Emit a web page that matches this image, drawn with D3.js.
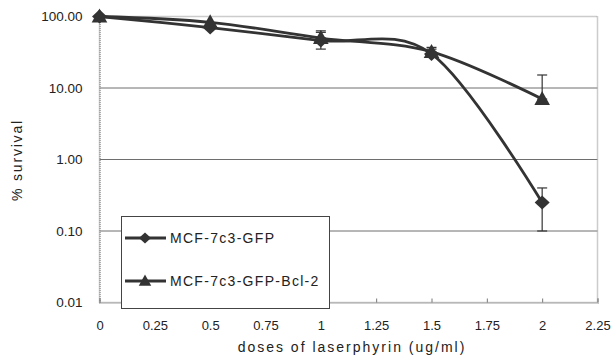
<!DOCTYPE html>
<html><head><meta charset="utf-8">
<script src="https://cdn.jsdelivr.net/npm/d3@7"></script>
<style>html,body{margin:0;padding:0;background:#fff;}svg{display:block;}</style>
</head><body>
<svg id="c" width="613" height="358"></svg>
<script>
const doses = [0, 0.5, 1, 1.5, 2];
const gfp = [100, 70, 46, 30, 0.25];
const gfpErrLow = [100, 70, 35, 30, 0.1];
const gfpErrHigh = [100, 70, 60, 35, 0.4];
const bcl2 = [100, 83, 50, 32, 7];
const bcl2ErrLow = [100, 83, 50, 32, 7];
const bcl2ErrHigh = [100, 83, 63, 37, 15.2];
const yTicks = [0.01, 0.1, 1, 10, 100];
const xTicks = [0, 0.25, 0.5, 0.75, 1, 1.25, 1.5, 1.75, 2, 2.25];
const seriesNames = ["MCF-7c3-GFP", "MCF-7c3-GFP-Bcl-2"];

const svg = d3.select("#c");
const L = 99.5, R = 597.5, T = 16.5, B = 302.5;
const x = d3.scaleLinear().domain([0, 2.25]).range([L, R]);
const y = d3.scaleLog().domain([0.01, 100]).range([B, T]);
const ink = "#333";
const font = "Liberation Sans, Arial, sans-serif";

// gridlines
svg.append("g").selectAll("line").data(yTicks.filter(v => v > 0.01 && v < 100)).join("line")
  .attr("x1", L).attr("x2", R).attr("y1", d => y(d)).attr("y2", d => y(d))
  .attr("stroke", "#6e6e6e").attr("stroke-width", 1);

// plot frame (dotted gray)
svg.append("rect").attr("x", L).attr("y", T).attr("width", R - L).attr("height", B - T)
  .attr("fill", "none").attr("stroke", "#999").attr("stroke-width", 1.5).attr("stroke-dasharray", "1,1");

// y axis
const yAxis = d3.axisLeft(y).tickValues(yTicks).tickFormat(d3.format(".2f")).tickSize(0).tickPadding(17);
const gy = svg.append("g").attr("transform", `translate(${L},0)`).call(yAxis);
gy.select(".domain").attr("stroke", "#999").attr("stroke-dasharray", "1,1").attr("stroke-width", 1.5);
gy.selectAll("text").attr("font-family", font).attr("font-size", 13.5).attr("fill", "#222");

// x axis
const xAxis = d3.axisBottom(x).tickValues(xTicks).tickFormat(d => d3.format("")(d)).tickSize(-4).tickPadding(18);
const gx = svg.append("g").attr("transform", `translate(0,${B})`).call(xAxis);
gx.select(".domain").attr("stroke", "#999").attr("stroke-dasharray", "1,1").attr("stroke-width", 1.5);
gx.selectAll(".tick line").attr("stroke", "#777");
gx.selectAll("text").attr("font-family", font).attr("font-size", 13).attr("fill", "#222");

// axis titles
svg.append("text").attr("x", 352).attr("y", 352).attr("text-anchor", "middle")
  .attr("font-family", font).attr("font-size", 14).attr("letter-spacing", 2)
  .attr("fill", "#222").text("doses of laserphyrin (ug/ml)");
svg.append("text").attr("transform", "translate(22,160) rotate(-90)").attr("text-anchor", "middle")
  .attr("font-family", font).attr("font-size", 14).attr("letter-spacing", 1.8)
  .attr("fill", "#222").text("% survival");

const line = d3.line().x(d => x(d[0])).y(d => y(d[1])).curve(d3.curveCatmullRom.alpha(0));
const s1 = doses.map((d, i) => [d, gfp[i]]);
const s2 = doses.map((d, i) => [d, bcl2[i]]);

function errbars(lo, hi) {
  const g = svg.append("g").attr("stroke", ink).attr("stroke-width", 1.2);
  doses.forEach((d, i) => {
    const cx = x(d);
    if (Math.abs(y(hi[i]) - y(lo[i])) < 1) return;
    g.append("line").attr("x1", cx).attr("x2", cx).attr("y1", y(lo[i])).attr("y2", y(hi[i]));
    [lo[i], hi[i]].forEach(v => {
      g.append("line").attr("x1", cx - 5).attr("x2", cx + 5).attr("y1", y(v)).attr("y2", y(v));
    });
  });
}
errbars(gfpErrLow, gfpErrHigh);
errbars(bcl2ErrLow, bcl2ErrHigh);

svg.append("path").attr("d", line(s2)).attr("fill", "none").attr("stroke", ink).attr("stroke-width", 2.8);
svg.append("path").attr("d", line(s1)).attr("fill", "none").attr("stroke", ink).attr("stroke-width", 2.8);

const diamond = "M0,-7L7.5,0L0,7L-7.5,0Z";
const triangle = "M0,-8L7.8,6L-7.8,6Z";
svg.append("g").selectAll("path").data(s1).join("path")
  .attr("transform", d => `translate(${x(d[0])},${y(d[1])})`).attr("d", diamond).attr("fill", ink);
svg.append("g").selectAll("path").data(s2).join("path")
  .attr("transform", d => `translate(${x(d[0])},${y(d[1])})`).attr("d", triangle).attr("fill", ink);

// legend
const lg = svg.append("g");
lg.append("rect").attr("x", 121.5).attr("y", 216.5).attr("width", 208).attr("height", 92)
  .attr("fill", "#fff").attr("stroke", "#444").attr("stroke-width", 1);
const ly = [238, 281];
const shapes = [diamond, triangle];
seriesNames.forEach((n, i) => {
  lg.append("line").attr("x1", 125).attr("x2", 166).attr("y1", ly[i]).attr("y2", ly[i])
    .attr("stroke", ink).attr("stroke-width", 2.8);
  lg.append("path").attr("transform", `translate(145,${ly[i]}) scale(0.8)`).attr("d", shapes[i]).attr("fill", ink);
  lg.append("text").attr("x", 170).attr("y", ly[i] + 5)
    .attr("font-family", font).attr("font-size", 14).attr("letter-spacing", 1.3)
    .attr("fill", "#222").text(n);
});
</script>
</body></html>
